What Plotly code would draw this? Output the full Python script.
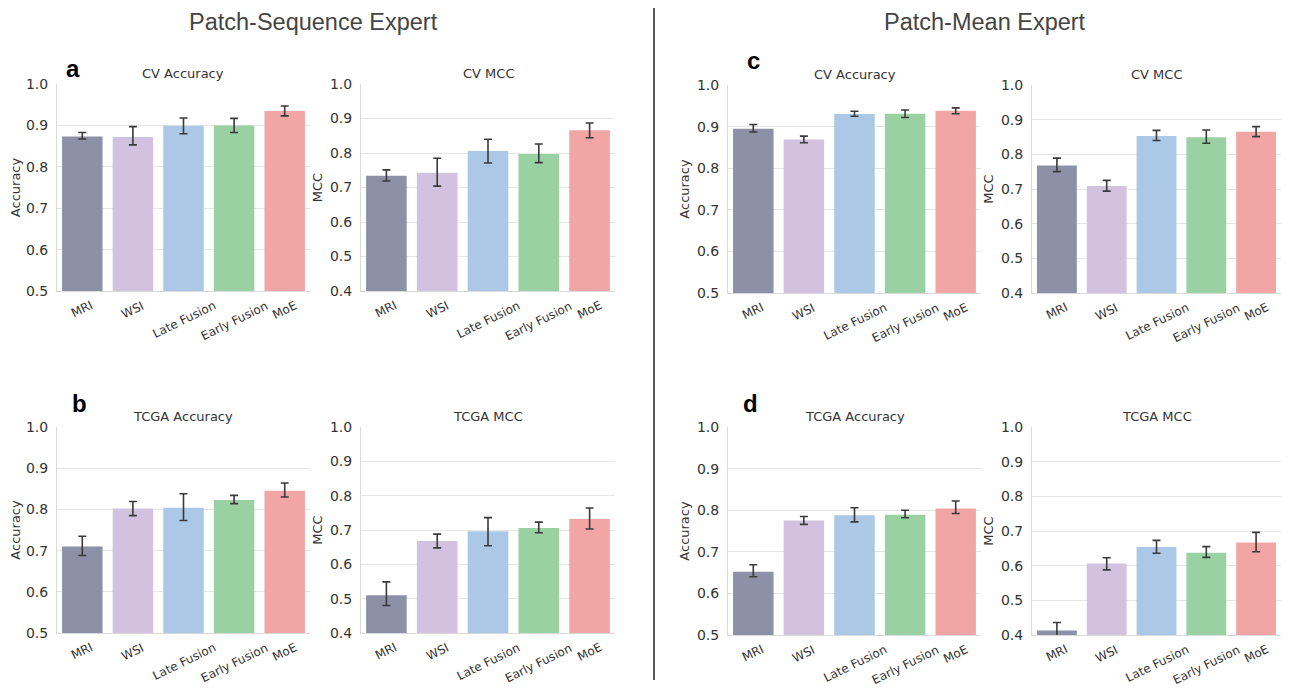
import plotly.graph_objects as go

# Browser body has an 8px margin: the figure is offset by it, so size and place accordingly.
MARGIN = 8
W, H = 1290 - 2 * MARGIN, 690 - MARGIN

categories = ["MRI", "WSI", "Late Fusion", "Early Fusion", "MoE"]
bar_colors = ["#8C91A7", "#D2C2DF", "#ABC8E7", "#9AD1A3", "#F1A6A5"]

# Patch-Sequence Expert
seq_cv_acc = [0.873, 0.872, 0.899, 0.900, 0.935]
seq_cv_acc_hi = [0.883, 0.897, 0.918, 0.917, 0.947]
seq_cv_acc_lo = [0.867, 0.853, 0.880, 0.883, 0.923]

seq_cv_mcc = [0.734, 0.743, 0.806, 0.797, 0.866]
seq_cv_mcc_hi = [0.751, 0.785, 0.840, 0.826, 0.887]
seq_cv_mcc_lo = [0.719, 0.704, 0.771, 0.772, 0.844]

seq_tcga_acc = [0.710, 0.802, 0.804, 0.823, 0.845]
seq_tcga_acc_hi = [0.735, 0.819, 0.838, 0.834, 0.864]
seq_tcga_acc_lo = [0.688, 0.785, 0.773, 0.814, 0.830]

seq_tcga_mcc = [0.510, 0.668, 0.696, 0.706, 0.732]
seq_tcga_mcc_hi = [0.549, 0.688, 0.736, 0.723, 0.764]
seq_tcga_mcc_lo = [0.480, 0.648, 0.654, 0.692, 0.703]

# Patch-Mean Expert
mean_cv_acc = [0.895, 0.869, 0.930, 0.931, 0.938]
mean_cv_acc_hi = [0.905, 0.877, 0.937, 0.940, 0.945]
mean_cv_acc_lo = [0.887, 0.861, 0.925, 0.922, 0.931]

mean_cv_mcc = [0.768, 0.709, 0.853, 0.849, 0.865]
mean_cv_mcc_hi = [0.789, 0.725, 0.869, 0.870, 0.880]
mean_cv_mcc_lo = [0.750, 0.694, 0.840, 0.832, 0.851]

mean_tcga_acc = [0.652, 0.775, 0.788, 0.789, 0.804]
mean_tcga_acc_hi = [0.669, 0.785, 0.806, 0.800, 0.822]
mean_tcga_acc_lo = [0.640, 0.766, 0.772, 0.782, 0.792]

mean_tcga_mcc = [0.413, 0.606, 0.654, 0.637, 0.667]
mean_tcga_mcc_hi = [0.436, 0.623, 0.673, 0.655, 0.696]
mean_tcga_mcc_lo = [0.391, 0.588, 0.636, 0.624, 0.640]

acc_ticks = [0.5, 0.6, 0.7, 0.8, 0.9, 1.0]
mcc_ticks = [0.4, 0.5, 0.6, 0.7, 0.8, 0.9, 1.0]

# panel spec: (title, ylabel, means, hi, lo, yrange, ticks, window-pixel box x0,x1,y0,y1)
panels = [
    ("CV Accuracy", "Accuracy", seq_cv_acc, seq_cv_acc_hi, seq_cv_acc_lo, [0.5, 1.0], acc_ticks, (57, 310, 84, 291)),
    ("CV MCC", "MCC", seq_cv_mcc, seq_cv_mcc_hi, seq_cv_mcc_lo, [0.4, 1.0], mcc_ticks, (361, 615, 84, 291)),
    ("TCGA Accuracy", "Accuracy", seq_tcga_acc, seq_tcga_acc_hi, seq_tcga_acc_lo, [0.5, 1.0], acc_ticks, (57, 310, 427, 633)),
    ("TCGA MCC", "MCC", seq_tcga_mcc, seq_tcga_mcc_hi, seq_tcga_mcc_lo, [0.4, 1.0], mcc_ticks, (361, 615, 427, 633)),
    ("CV Accuracy", "Accuracy", mean_cv_acc, mean_cv_acc_hi, mean_cv_acc_lo, [0.5, 1.0], acc_ticks, (728, 981, 85, 293)),
    ("CV MCC", "MCC", mean_cv_mcc, mean_cv_mcc_hi, mean_cv_mcc_lo, [0.4, 1.0], mcc_ticks, (1032, 1281, 85, 293)),
    ("TCGA Accuracy", "Accuracy", mean_tcga_acc, mean_tcga_acc_hi, mean_tcga_acc_lo, [0.5, 1.0], acc_ticks, (728, 981, 427, 635)),
    ("TCGA MCC", "MCC", mean_tcga_mcc, mean_tcga_mcc_hi, mean_tcga_mcc_lo, [0.4, 1.0], mcc_ticks, (1032, 1281, 427, 635)),
]


def px(xw):
    return (xw - MARGIN) / W


def py(yw):
    return 1 - (yw - MARGIN) / H


FONT = "DejaVu Sans"
TXT = "#333333"
GRID = "#E6E6E6"

fig = go.Figure()
annotations = []
layout_axes = {}

for i, (title, ylab, means, hi, lo, yr, ticks, box) in enumerate(panels):
    n = i + 1
    xa = "x" if n == 1 else f"x{n}"
    ya = "y" if n == 1 else f"y{n}"
    x0, x1, y0, y1 = box
    plus = [h - m for h, m in zip(hi, means)]
    minus = [m - l for m, l in zip(means, lo)]
    fig.add_trace(go.Bar(
        x=categories, y=means, xaxis=xa, yaxis=ya,
        marker=dict(color=bar_colors, line=dict(width=0)),
        error_y=dict(type="data", symmetric=False, array=plus, arrayminus=minus,
                     color="#3A3A3A", thickness=1.6, width=4),
        showlegend=False, hoverinfo="x+y",
    ))
    xkey = "xaxis" if n == 1 else f"xaxis{n}"
    ykey = "yaxis" if n == 1 else f"yaxis{n}"
    layout_axes[xkey] = dict(
        domain=[px(x0), px(x1)], anchor=ya, range=[-0.5, 4.5], automargin=False,
        showgrid=False, showline=True, linecolor="#DADADA", linewidth=1,
        showticklabels=False, ticks="", zeroline=False, fixedrange=True,
    )
    layout_axes[ykey] = dict(
        domain=[py(y1), py(y0)], anchor=xa, range=yr, automargin=False,
        tickvals=ticks, ticktext=[f"{t:.1f}" for t in ticks],
        showgrid=True, gridcolor=GRID, gridwidth=1,
        showline=True, linecolor="#DADADA", linewidth=1, zeroline=False,
        tickfont=dict(family=FONT, size=14, color=TXT),
        ticks="outside", ticklen=5, tickcolor="rgba(0,0,0,0)",
        title=dict(text=ylab, font=dict(family=FONT, size=13, color=TXT), standoff=4),
        fixedrange=True,
    )
    # category labels: rotated, bounding box centred under each bar
    for cat in categories:
        annotations.append(dict(
            text=cat, x=cat, xref=xa, y=py(y1 + 6), yref="paper",
            textangle=-26, showarrow=False, xanchor="center", yanchor="top",
            borderpad=0, font=dict(family=FONT, size=12, color=TXT),
        ))
    annotations.append(dict(
        text=title, x=px((x0 + x1) / 2), y=py(y0 - 11),
        xref="paper", yref="paper", showarrow=False,
        font=dict(family=FONT, size=13, color=TXT), xanchor="center", yanchor="middle",
    ))

# big section titles
for text, xc in [("Patch-Sequence Expert", 313), ("Patch-Mean Expert", 985)]:
    annotations.append(dict(
        text=text, x=px(xc), y=py(MARGIN), xref="paper", yref="paper",
        showarrow=False, xanchor="center", yanchor="top", borderpad=0,
        font=dict(family="Liberation Sans", size=23.5, color="#444444"),
    ))

# panel letters
for letter, lx, ly in [("a", 73, 68), ("b", 79, 403), ("c", 753, 60), ("d", 750, 403)]:
    annotations.append(dict(
        text=f"<b>{letter}</b>", x=px(lx), y=py(ly), xref="paper", yref="paper",
        showarrow=False, xanchor="center", yanchor="middle",
        font=dict(family="Liberation Sans", size=24, color="#000000"),
    ))

fig.update_layout(
    width=W, height=H, margin=dict(l=0, r=0, t=0, b=0, autoexpand=False),
    paper_bgcolor="white", plot_bgcolor="white",
    bargap=0.2, annotations=annotations,
    shapes=[dict(type="line", xref="paper", yref="paper",
                 x0=px(654), x1=px(654), y0=py(8), y1=py(680),
                 line=dict(color="#222222", width=1.5))],
    **layout_axes,
)

fig.write_html("out.html", config={"displayModeBar": False})
